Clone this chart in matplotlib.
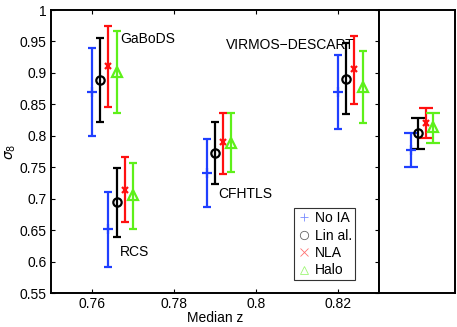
import numpy as np
import matplotlib
matplotlib.use('Agg')
import matplotlib.pyplot as plt
from matplotlib.lines import Line2D

plt.rcParams['font.family'] = ['Liberation Sans', 'DejaVu Sans']
plt.rcParams['font.size'] = 10

# median redshift of each survey, models are shifted by 0.002 in z
surveys = ['GaBoDS', 'RCS', 'CFHTLS', 'VIRMOS\u2212DESCART']
z_med = [0.76, 0.764, 0.788, 0.82]
dz = 0.002

models = ['No IA', 'Lin al.', 'NLA', 'Halo']
colors = ['#1f3fff', 'black', '#ff1010', '#5ef01a']
markers = ['+', 'o', 'x', '^']

# sigma_8 values and error bars (lower, upper) per model, per survey
s8_noia = [0.869, 0.652, 0.741, 0.869]
lo_noia = [0.800, 0.592, 0.686, 0.810]
hi_noia = [0.939, 0.711, 0.795, 0.928]

s8_lin = [0.889, 0.694, 0.773, 0.890]
lo_lin = [0.822, 0.639, 0.724, 0.834]
hi_lin = [0.955, 0.748, 0.822, 0.947]

s8_nla = [0.911, 0.714, 0.790, 0.906]
lo_nla = [0.845, 0.663, 0.740, 0.850]
hi_nla = [0.975, 0.767, 0.837, 0.959]

s8_halo = [0.901, 0.706, 0.789, 0.878]
lo_halo = [0.836, 0.652, 0.743, 0.820]
hi_halo = [0.967, 0.757, 0.837, 0.935]

# combined result (right panel)
comb_s8 = [0.778, 0.805, 0.820, 0.814]
comb_lo = [0.751, 0.779, 0.797, 0.788]
comb_hi = [0.805, 0.829, 0.844, 0.837]

# where the survey names go
label_x = [0.7668, 0.7668, 0.7907, 0.7927]
label_y = [0.954, 0.615, 0.707, 0.944]

all_s8 = [s8_noia, s8_lin, s8_nla, s8_halo]
all_lo = [lo_noia, lo_lin, lo_nla, lo_halo]
all_hi = [hi_noia, hi_lin, hi_nla, hi_halo]

W, H = 457, 327
fig = plt.figure(figsize=(W / 100, H / 100), dpi=100)
ax = fig.add_axes([51 / W, (H - 293) / H, (379 - 51) / W, (293 - 10) / H])
ax2 = fig.add_axes([379 / W, (H - 293) / H, (455 - 379) / W, (293 - 10) / H])

msizes = [7, 6, 5, 7]
for i in range(4):
    x = np.array(z_med) + i * dz
    y = np.array(all_s8[i])
    yerr = [y - np.array(all_lo[i]), np.array(all_hi[i]) - y]
    ax.errorbar(x, y, yerr=yerr, fmt=markers[i], color=colors[i], mfc='none',
                ms=msizes[i], mew=1.6, elinewidth=1.6, capsize=2.6, capthick=1.6)

for i in range(4):
    y = comb_s8[i]
    ax2.errorbar([0.42 + 0.096 * i], [y], yerr=[[y - comb_lo[i]], [comb_hi[i] - y]],
                 fmt=markers[i], color=colors[i], mfc='none', ms=msizes[i], mew=1.6,
                 elinewidth=1.6, capsize=4.7, capthick=1.6)

for name, tx, ty in zip(surveys, label_x, label_y):
    ax.text(tx, ty, name, fontsize=10, va='center', ha='left')

ax.set_xlim(0.75, 0.83)
ax.set_ylim(0.55, 1.0)
ax.set_xticks([0.76, 0.78, 0.8, 0.82])
ax.set_xticklabels(['0.76', '0.78', '0.8', '0.82'])
ax.set_yticks(np.arange(0.55, 1.001, 0.05))
ax.set_yticklabels(['0.55', '0.6', '0.65', '0.7', '0.75', '0.8', '0.85', '0.9', '0.95', '1'])
ax.tick_params(direction='in', length=3, width=0.8, top=True, right=True, labelsize=10, pad=3)
ax.set_xlabel('Median z', fontsize=10, labelpad=0)
ax.set_ylabel(r'$\sigma_8$', fontsize=10, labelpad=1)

ax2.set_xlim(0, 1)
ax2.set_ylim(0.55, 1.0)
ax2.set_xticks([])
ax2.set_yticks([])
for a in (ax, ax2):
    for s in a.spines.values():
        s.set_linewidth(1.4)

handles = [Line2D([], [], ls='none', marker=markers[i], color=colors[i], mfc='none',
                  ms=6, mew=0.6, alpha=0.6) for i in range(4)]
leg = ax.legend(handles, models, loc='lower left', bbox_to_anchor=(0.742, 0.045),
                fancybox=False, framealpha=1, edgecolor='#333333', fontsize=10,
                handlelength=1.0, handletextpad=0.3, labelspacing=0.25,
                borderpad=0.2, borderaxespad=0)
leg.get_frame().set_linewidth(0.8)

fig.savefig('out.png', dpi=100)
